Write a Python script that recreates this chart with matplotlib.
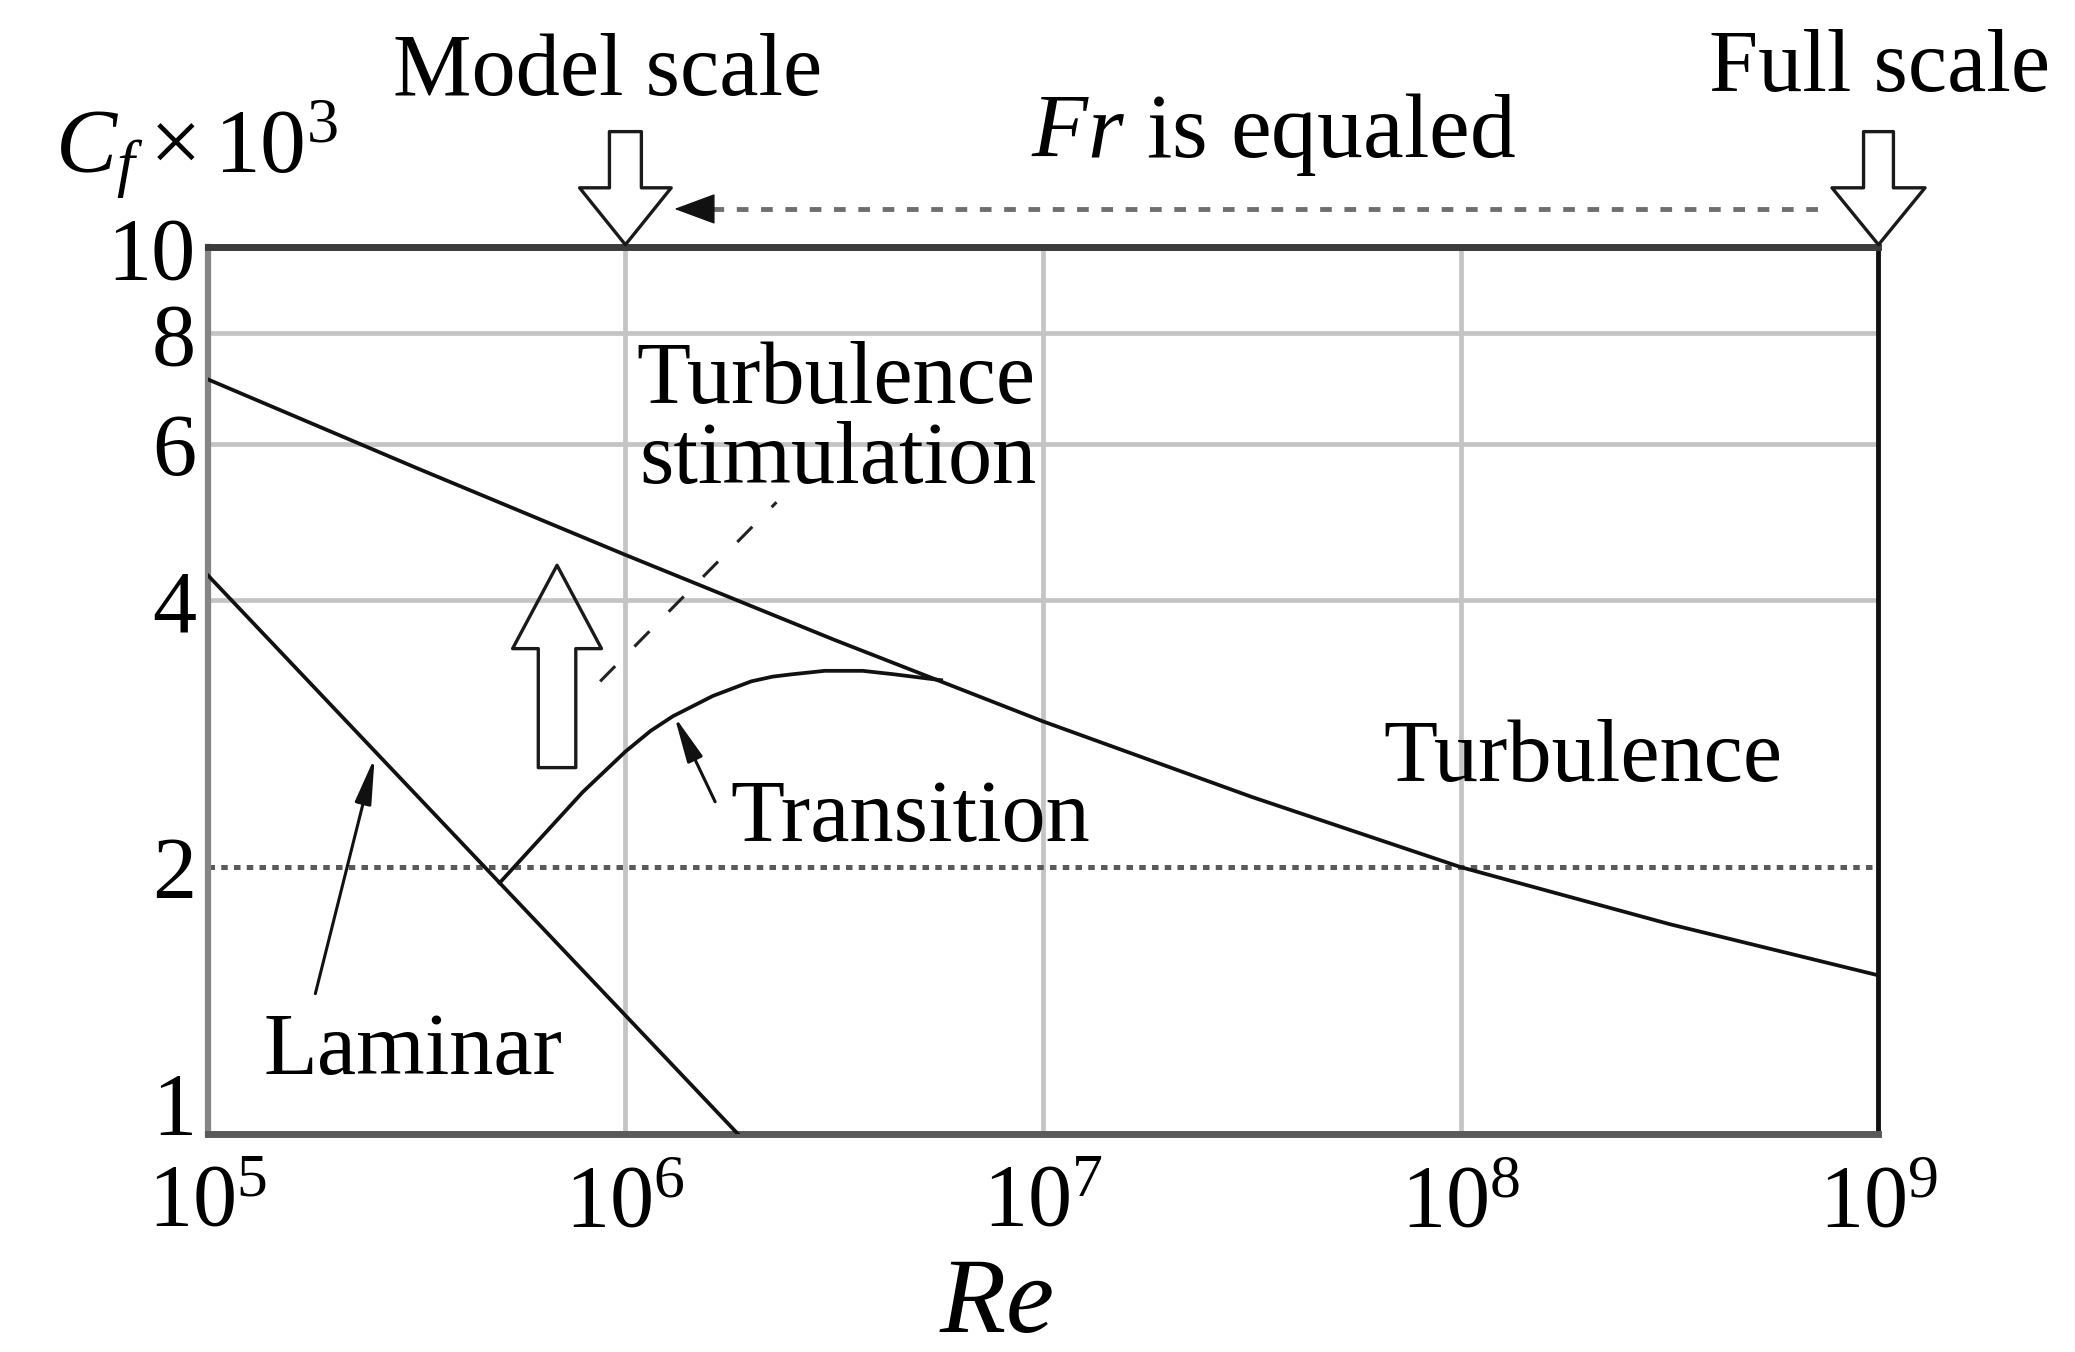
import matplotlib.pyplot as plt
from matplotlib.ticker import NullLocator

plt.rcParams['font.family'] = ['Liberation Serif', 'DejaVu Serif']
plt.rcParams['mathtext.fontset'] = 'custom'
plt.rcParams['mathtext.rm'] = 'Liberation Serif'
plt.rcParams['mathtext.it'] = 'Liberation Serif:italic'

# curvas: Re e Cf x 10^3
re_turb = [1e5, 3.16e5, 1e6, 3.16e6, 1e7, 3.16e7, 1e8, 3.16e8, 1e9]
cf_turb = [7.1, 5.64, 4.5, 3.61, 2.92, 2.40, 2.0, 1.725, 1.51]

re_lam = [1e5, 1.86e6]
cf_lam = [4.27, 1.0]

re_trans = [5.0e5, 7.9e5, 1.0e6, 1.15e6, 1.3e6, 1.62e6, 2.0e6, 2.25e6, 2.5e6, 3.0e6, 3.7e6, 4.4e6, 5.7e6]
cf_trans = [1.92, 2.43, 2.70, 2.85, 2.96, 3.12, 3.24, 3.28, 3.30, 3.33, 3.33, 3.30, 3.25]

re_stim = [8.7e5, 2.3e6]
cf_stim = [3.24, 5.16]

re_model = 1e6
re_full = 1e9
cf_ref = 2.0

x_ticks = [1e5, 1e6, 1e7, 1e8, 1e9]
x_labels = [r'$10^5$', r'$10^6$', r'$10^7$', r'$10^8$', r'$10^9$']
y_ticks = [1, 2, 4, 6, 8, 10]
y_labels = ['1', '2', '4', '6', '8', '10']
grid_x = [1e6, 1e7, 1e8]
grid_y = [4, 6, 8]

FS = 63.5

fig = plt.figure(figsize=(20.75, 13.52), dpi=100)
ax = fig.add_axes([0.1001, 0.1612, 0.8052, 0.6558])
ax.set_xscale('log')
ax.set_yscale('log')
ax.set_xlim(1e5, 1e9)
ax.set_ylim(1, 10)

# grade
for gx in grid_x:
    ax.axvline(gx, color='#c4c4c4', lw=3.4, zorder=1)
for gy in grid_y:
    ax.axhline(gy, color='#c4c4c4', lw=3.4, zorder=1)
ax.axhline(cf_ref, color='#5a5a5a', lw=3.6, linestyle=(0, (1.3, 1.25)), zorder=2)

# curvas
ax.plot(re_turb, cf_turb, color='#111111', lw=2.7, zorder=3)
ax.plot(re_lam, cf_lam, color='#111111', lw=2.7, zorder=3)
ax.plot(re_trans, cf_trans, color='#111111', lw=2.7, zorder=3)
ax.plot(re_stim, cf_stim, color='#222222', lw=2.2, linestyle=(0, (7, 9)), zorder=3)

# eixos
ax.set_xticks(x_ticks)
ax.set_xticklabels(x_labels)
ax.set_yticks(y_ticks)
ax.set_yticklabels(y_labels)
ax.xaxis.set_minor_locator(NullLocator())
ax.yaxis.set_minor_locator(NullLocator())
ax.tick_params(axis='both', length=0, labelsize=FS)
ax.tick_params(axis='x', pad=21)
ax.tick_params(axis='y', pad=8.5)
ax.get_yticklabels()[0].set_va('baseline')

ax.spines['left'].set_color('#858585')
ax.spines['left'].set_linewidth(4.5)
ax.spines['bottom'].set_color('#5a5a5a')
ax.spines['bottom'].set_linewidth(5)
ax.spines['top'].set_color('#3c3c3c')
ax.spines['top'].set_linewidth(5)
ax.spines['right'].set_color('#111111')
ax.spines['right'].set_linewidth(3.5)


def seta_vazada(x, y0, y1, cab_c, cab_l, cauda, coords, fc):
    estilo = 'simple,head_length=%g,head_width=%g,tail_width=%g' % (cab_c, cab_l, cauda)
    ax.annotate('', xy=(x, y1), xytext=(x, y0), xycoords=coords, textcoords=coords,
                arrowprops=dict(arrowstyle=estilo, mutation_scale=1, shrinkA=0, shrinkB=0,
                                fc=fc, ec='#1a1a1a', lw=2.4),
                annotation_clip=False, zorder=5)


def seta_fina(xy, xytext):
    ax.annotate('', xy=xy, xytext=xytext,
                arrowprops=dict(arrowstyle='-|>,head_length=28,head_width=5', mutation_scale=1,
                                shrinkA=0, shrinkB=0, color='#111111', lw=2.2),
                zorder=5)


topo = ('data', 'axes fraction')
seta_vazada(re_model, 1.1306, 1.003, 41, 66, 23, topo, 'white')
seta_vazada(re_full, 1.1306, 1.003, 41, 67, 21.5, topo, 'white')
seta_vazada(6.86e5, 2.59, 4.38, 60, 64, 27, 'data', 'none')

# Fr igualado - linha tracejada com ponta
ax.plot([1.61e6, 7.6e8], [1.0434, 1.0434], transform=ax.get_xaxis_transform(),
        color='#6e6e6e', lw=3.5, linestyle=(0, (2.4, 2.6)), clip_on=False)
ax.annotate('', xy=(1.31e6, 1.0434), xytext=(1.62e6, 1.0434), xycoords=topo, textcoords=topo,
            arrowprops=dict(arrowstyle='-|>,head_length=27,head_width=10', mutation_scale=1,
                            shrinkA=0, shrinkB=0, color='#111111', lw=1),
            annotation_clip=False)

seta_fina((2.51e5, 2.66), (1.81e5, 1.44))
seta_fina((1.31e6, 2.96), (1.64e6, 2.37))

# textos dentro do grafico
ax.text(1.06e6, 6.67, 'Turbulence', fontsize=FS, ha='left', va='baseline')
ax.text(1.08e6, 5.42, 'stimulation', fontsize=FS, ha='left', va='baseline')
ax.text(1.78e6, 2.14, 'Transition', fontsize=FS, ha='left', va='baseline')
ax.text(6.51e7, 2.50, 'Turbulence', fontsize=FS, ha='left', va='baseline')
ax.text(1.36e5, 1.17, 'Laminar', fontsize=FS, ha='left', va='baseline')

# textos fora
fig.text(0.1894, 0.9297, 'Model scale', fontsize=FS, ha='left', va='baseline')
fig.text(0.8236, 0.9329, 'Full scale', fontsize=FS, ha='left', va='baseline')
fig.text(0.4969, 0.8841, r'$\mathit{Fr}$ is equaled', fontsize=66, ha='left', va='baseline')
fig.text(0.0265, 0.8718, r'$C_f\times10^3$', fontsize=66, ha='left', va='baseline')
fig.text(0.4803, 0.0150, r'$\mathit{Re}$', fontsize=78, ha='center', va='baseline')

fig.savefig('out.png', dpi=100)
